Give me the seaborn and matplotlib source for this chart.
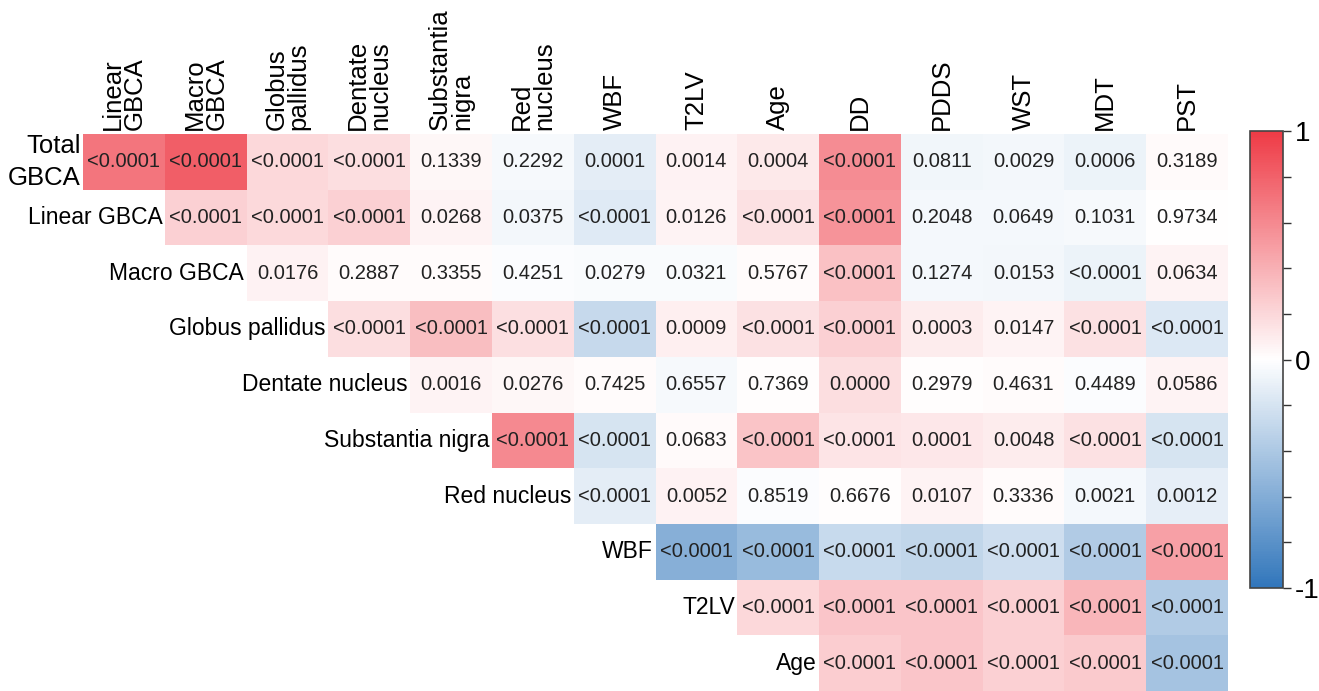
import numpy as np
import pandas as pd
import seaborn as sns
import matplotlib.pyplot as plt
from matplotlib.colors import LinearSegmentedColormap
from matplotlib.ticker import MultipleLocator

# rows / columns of the triangular correlation matrix
row_labels = ["Total\nGBCA", "Linear GBCA", "Macro GBCA", "Globus pallidus", "Dentate nucleus",
              "Substantia nigra", "Red nucleus", "WBF", "T2LV", "Age"]
col_labels = ["Linear\nGBCA", "Macro\nGBCA", "Globus\npallidus", "Dentate\nnucleus", "Substantia\nnigra",
              "Red\nnucleus", "WBF", "T2LV", "Age", "DD", "PDDS", "WST", "MDT", "PST"]

# correlation coefficients, row i starts at column i
r_total = [0.70, 0.82, 0.20, 0.17, 0.04, -0.04, -0.13, 0.07, 0.11, 0.58, -0.07, -0.06, -0.09, 0.03]
r_linear = [0.24, 0.19, 0.24, 0.06, -0.06, -0.15, 0.06, 0.15, 0.55, -0.05, -0.05, -0.04, 0.0]
r_macro = [0.07, 0.02, 0.02, -0.02, -0.03, -0.03, 0.02, 0.32, -0.05, -0.06, -0.09, 0.06]
r_gp = [0.17, 0.33, 0.16, -0.28, 0.08, 0.15, 0.24, 0.10, 0.06, 0.15, -0.17]
r_dn = [0.06, 0.04, 0.02, -0.04, 0.01, 0.17, 0.01, 0.02, -0.02, 0.06]
r_sn = [0.60, -0.20, 0.03, 0.30, 0.14, 0.12, 0.10, 0.15, -0.20]
r_rn = [-0.13, 0.07, -0.02, 0.01, 0.06, 0.02, -0.05, -0.12]
r_wbf = [-0.58, -0.50, -0.27, -0.30, -0.24, -0.38, 0.48]
r_t2lv = [0.20, 0.29, 0.29, 0.24, 0.37, -0.38]
r_age = [0.25, 0.29, 0.24, 0.27, -0.43]

# p-values shown in the cells
p_total = ["<0.0001", "<0.0001", "<0.0001", "<0.0001", "0.1339", "0.2292", "0.0001", "0.0014", "0.0004",
           "<0.0001", "0.0811", "0.0029", "0.0006", "0.3189"]
p_linear = ["<0.0001", "<0.0001", "<0.0001", "0.0268", "0.0375", "<0.0001", "0.0126", "<0.0001", "<0.0001",
            "0.2048", "0.0649", "0.1031", "0.9734"]
p_macro = ["0.0176", "0.2887", "0.3355", "0.4251", "0.0279", "0.0321", "0.5767", "<0.0001", "0.1274",
           "0.0153", "<0.0001", "0.0634"]
p_gp = ["<0.0001", "<0.0001", "<0.0001", "<0.0001", "0.0009", "<0.0001", "<0.0001", "0.0003", "0.0147",
        "<0.0001", "<0.0001"]
p_dn = ["0.0016", "0.0276", "0.7425", "0.6557", "0.7369", "0.0000", "0.2979", "0.4631", "0.4489", "0.0586"]
p_sn = ["<0.0001", "<0.0001", "0.0683", "<0.0001", "<0.0001", "0.0001", "0.0048", "<0.0001", "<0.0001"]
p_rn = ["<0.0001", "0.0052", "0.8519", "0.6676", "0.0107", "0.3336", "0.0021", "0.0012"]
p_wbf = ["<0.0001"] * 7
p_t2lv = ["<0.0001"] * 6
p_age = ["<0.0001"] * 5

r_rows = [r_total, r_linear, r_macro, r_gp, r_dn, r_sn, r_rn, r_wbf, r_t2lv, r_age]
p_rows = [p_total, p_linear, p_macro, p_gp, p_dn, p_sn, p_rn, p_wbf, p_t2lv, p_age]

n_rows, n_cols = len(row_labels), len(col_labels)
r_mat = np.full((n_rows, n_cols), np.nan)
p_mat = np.full((n_rows, n_cols), "", dtype=object)
for i, (rv, pv) in enumerate(zip(r_rows, p_rows)):
    r_mat[i, i:] = rv
    p_mat[i, i:] = pv

df = pd.DataFrame(r_mat, index=row_labels, columns=col_labels)
mask = np.isnan(r_mat)

cmap = LinearSegmentedColormap.from_list("bwr_custom", ["#3176bb", "#ffffff", "#ee3b46"])

plt.rcParams["font.family"] = ["Liberation Sans", "DejaVu Sans"]

fig = plt.figure(figsize=(13.19, 6.91), dpi=100)
ax = fig.add_axes([0.063, 0.0, 0.868, 0.806])
cax = fig.add_axes([0.948, 0.149, 0.025, 0.661])

sns.heatmap(df, mask=mask, cmap=cmap, vmin=-1, vmax=1, annot=p_mat, fmt="",
            annot_kws={"fontsize": 14.5, "color": "#222222"},
            ax=ax, cbar_ax=cax, cbar=True)

# column labels on top
ax.xaxis.tick_top()
ax.set_xticklabels(col_labels, rotation=90, fontsize=18.5, ha="center", va="bottom",
                   multialignment="left", linespacing=0.9)
ax.tick_params(axis="x", length=0, pad=3)

# row labels sit next to the first cell of each row (staircase)
ax.set_yticks([])
for i, lab in enumerate(row_labels):
    if i == 0:
        ax.text(i - 0.03, i + 0.5, lab, ha="right", va="center", multialignment="right",
                fontsize=18.5, linespacing=1.45)
    else:
        ax.text(i - 0.03, i + 0.5, lab, ha="right", va="center", fontsize=16.5)
ax.set_xlabel("")
ax.set_ylabel("")

# colorbar
cbar = ax.collections[0].colorbar
cbar.set_ticks([-1, 0, 1])
cbar.set_ticklabels(["-1", "0", "1"])
cbar.ax.yaxis.set_minor_locator(MultipleLocator(0.2))
cbar.ax.tick_params(which="major", labelsize=20, length=6, width=1, color="#333333", pad=2)
cbar.ax.tick_params(which="minor", length=6, width=1, color="#333333")
cbar.outline.set_edgecolor("#444444")
cbar.outline.set_linewidth(1.2)

fig.savefig("out.png", dpi=100)
